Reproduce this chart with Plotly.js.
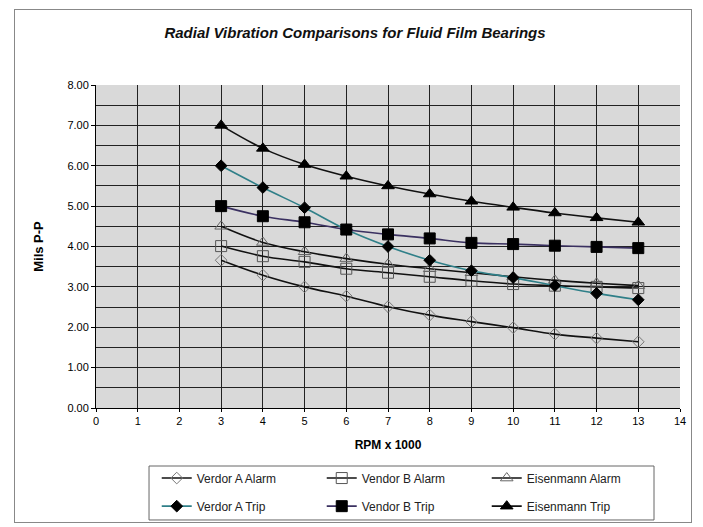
<!DOCTYPE html>
<html>
<head>
<meta charset="utf-8">
<script src="https://cdn.plot.ly/plotly-3.0.1.min.js"></script>
<style>
html,body{margin:0;padding:0;background:#fff;}
#wrap{position:relative;width:703px;height:527px;}
#chart{width:703px;height:527px;}
#frame{position:absolute;left:14px;top:9px;width:678px;height:514px;border:1px solid #888;pointer-events:none;box-sizing:border-box;}
</style>
</head>
<body>
<div id="wrap"><div id="chart"></div><div id="frame"></div></div>
<script>
const rpm = [3,4,5,6,7,8,9,10,11,12,13];
const vendorAAlarm = [3.66,3.29,3.00,2.77,2.51,2.30,2.14,1.99,1.83,1.73,1.64];
const vendorBAlarm = [4.01,3.76,3.62,3.45,3.35,3.25,3.15,3.07,3.03,3.00,2.97];
const eisenAlarm   = [4.50,4.10,3.87,3.70,3.56,3.45,3.35,3.25,3.16,3.09,3.03];
const vendorATrip  = [6.00,5.46,4.96,4.42,4.00,3.66,3.40,3.23,3.03,2.84,2.68];
const vendorBTrip  = [5.00,4.75,4.60,4.42,4.30,4.20,4.09,4.06,4.02,3.99,3.96];
const eisenTrip    = [7.00,6.43,6.03,5.74,5.50,5.30,5.12,4.97,4.83,4.71,4.60];
const seriesNames = ["Verdor A Alarm","Vendor B Alarm","Eisenmann Alarm","Verdor A Trip","Vendor B Trip","Eisenmann Trip"];
const yTickVals = [0,1,2,3,4,5,6,7,8];
const yTickText = ["0.00","1.00","2.00","3.00","4.00","5.00","6.00","7.00","8.00"];

function tr(y, name, lineColor, sym, msize, mcolor, mline, leg){
  return {x: rpm, y: y, name: name, type:'scatter', mode:'lines+markers', legend: leg,
    line:{color: lineColor, width:1.6, shape:'spline', smoothing:1},
    marker:{symbol: sym, size: msize, color: mcolor, line:{color: mline, width:1}}};
}
const data = [
  tr(vendorAAlarm, seriesNames[0], '#111', 'diamond-open', 9, '#777', '#777', 'legend'),
  tr(vendorBAlarm, seriesNames[1], '#111', 'square-open', 11, '#555', '#555', 'legend'),
  tr(eisenAlarm,   seriesNames[2], '#111', 'triangle-up-open', 11, '#666', '#666', 'legend'),
  tr(vendorATrip,  seriesNames[3], '#2f7f88', 'diamond', 9, '#000', '#000', 'legend2'),
  tr(vendorBTrip,  seriesNames[4], '#3a3060', 'square', 11, '#000', '#000', 'legend2'),
  tr(eisenTrip,    seriesNames[5], '#111', 'triangle-up', 11, '#000', '#000', 'legend2')
];
const legBase = {orientation:'h', x:0.104, xanchor:'left', yanchor:'top',
    borderwidth:0, bgcolor:'rgba(0,0,0,0)', entrywidth:120, entrywidthmode:'pixels',
    font:{size:12, color:'#222'}, tracegroupgap:0, itemwidth:30};
const layout = {
  width:703, height:527,
  margin:{l:96, r:23, t:85, b:119, autoexpand:false},
  paper_bgcolor:'#fff', plot_bgcolor:'#d9d9d9',
  font:{family:'"Liberation Sans", Arial, sans-serif', size:11, color:'#000'},
  title:{text:'<b><i>Radial Vibration Comparisons for Fluid Film Bearings</i></b>', x:0.505, xanchor:'center', y:0.937, yanchor:'middle', font:{size:15, color:'#111'}},
  xaxis:{range:[0,14], dtick:1, tick0:0, showgrid:true, gridcolor:'#222', gridwidth:1, zeroline:false,
    showline:true, linecolor:'#000', linewidth:1, ticks:'outside', ticklen:3, tickcolor:'#000',
    title:{text:'<b>RPM x 1000</b>', font:{size:12}, standoff:14}, mirror:false, fixedrange:true},
  yaxis:{range:[0,8], tickvals:yTickVals, ticktext:yTickText, showgrid:true, gridcolor:'#222', gridwidth:1, zeroline:false,
    showline:true, linecolor:'#000', linewidth:1, ticks:'outside', ticklen:4, tickcolor:'#000',
    minor:{dtick:0.5, tick0:0, showgrid:true, gridcolor:'#222', gridwidth:1},
    title:{text:'<b>Mils P-P</b>', font:{size:13}, standoff:20}, fixedrange:true},
  showlegend:true,
  legend: Object.assign({}, legBase, {y:-0.172}),
  legend2: Object.assign({}, legBase, {y:-0.259}),
  shapes:[{type:'rect', xref:'paper', yref:'paper', x0:0.0908, x1:0.9555, y0:-0.1796, y1:-0.3467,
    line:{color:'#666', width:1}, fillcolor:'rgba(0,0,0,0)'}]
};
Plotly.newPlot('chart', data, layout, {displayModeBar:false, staticPlot:true});
</script>
</body>
</html>
